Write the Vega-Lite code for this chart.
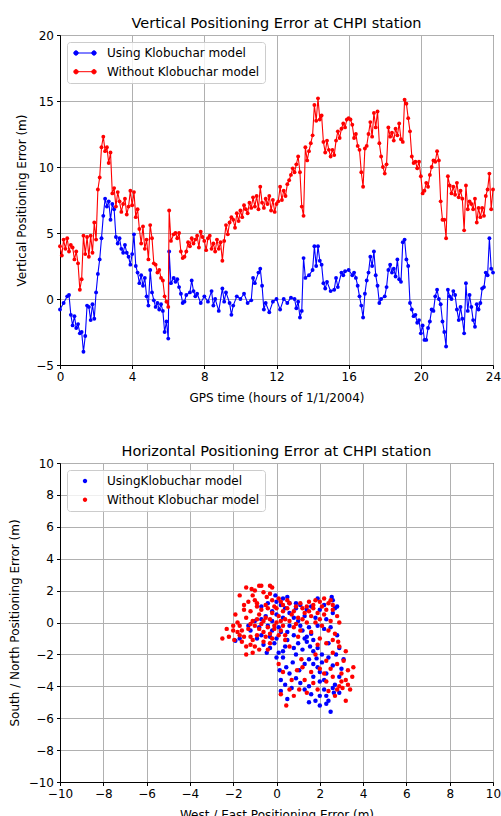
{
"$schema": "https://vega.github.io/schema/vega-lite/v6.json",
"padding": {"left": 7, "top": 15, "right": 8, "bottom": 0},
"spacing": 98,
"bounds": "flush",
"config": {
  "font": "DejaVu Sans",
  "view": {"stroke": "black", "strokeWidth": 1},
  "axis": {"domainColor": "black", "tickColor": "black", "tickSize": 3.5, "labelFontSize": 12, "labelColor": "black", "titleFontSize": 12, "titleFontWeight": "normal", "titleColor": "black", "gridColor": "#b0b0b0", "gridWidth": 1, "labelPadding": 3, "labelFont": "DejaVu Sans", "titleFont": "DejaVu Sans", "labelFlush": false, "labelOverlap": false, "titlePadding": 7},
  "axisX": {"titlePadding": 10},
  "title": {"fontSize": 14.5, "fontWeight": "normal", "font": "DejaVu Sans", "color": "black", "offset": -2},
  "legend": {"orient": "top-left", "offset": 7, "padding": 5, "strokeColor": "#cccccc", "fillColor": "rgba(255,255,255,0.8)", "cornerRadius": 3, "labelFontSize": 12, "labelFont": "DejaVu Sans", "labelColor": "black", "rowPadding": 6.7, "labelOffset": 16, "symbolOffset": 7, "symbolStrokeWidth": 1}
},
"datasets": {
  "tsU": [
{"h":0.0,"v":-0.8},{"h":0.2,"v":-0.3},{"h":0.4,"v":0.2},{"h":0.5,"v":0.3},{"h":0.6,"v":-1.2},{"h":0.7,"v":-2.0},{"h":0.8,"v":-1.3},{"h":0.9,"v":-2.2},{"h":1.0,"v":-1.9},{"h":1.1,"v":-2.6},{"h":1.2,"v":-2.5},{"h":1.3,"v":-4.0},{"h":1.4,"v":-2.8},{"h":1.5,"v":-0.5},{"h":1.6,"v":-0.6},{"h":1.7,"v":-1.6},{"h":1.8,"v":-0.4},{"h":1.9,"v":-1.5},{"h":2.0,"v":0.5},{"h":2.1,"v":1.9},{"h":2.2,"v":3.0},{"h":2.3,"v":4.6},{"h":2.4,"v":6.3},{"h":2.5,"v":7.6},{"h":2.6,"v":7.0},{"h":2.7,"v":7.4},{"h":2.8,"v":6.0},{"h":2.9,"v":7.2},{"h":3.0,"v":6.8},{"h":3.1,"v":4.7},{"h":3.2,"v":4.2},{"h":3.3,"v":4.6},{"h":3.4,"v":3.8},{"h":3.5,"v":3.5},{"h":3.6,"v":4.1},{"h":3.7,"v":3.5},{"h":3.8,"v":3.2},{"h":3.9,"v":2.6},{"h":4.0,"v":3.4},{"h":4.1,"v":4.9},{"h":4.2,"v":2.5},{"h":4.3,"v":2.0},{"h":4.4,"v":1.2},{"h":4.5,"v":1.8},{"h":4.6,"v":1.0},{"h":4.7,"v":1.6},{"h":4.8,"v":0.2},{"h":4.9,"v":-0.5},{"h":5.0,"v":2.2},{"h":5.1,"v":0.5},{"h":5.2,"v":-0.1},{"h":5.3,"v":-0.6},{"h":5.4,"v":-0.3},{"h":5.5,"v":-0.8},{"h":5.6,"v":-0.4},{"h":5.7,"v":-0.9},{"h":5.8,"v":-2.5},{"h":5.9,"v":-1.7},{"h":6.0,"v":-3.0},{"h":6.05,"v":3.6},{"h":6.15,"v":1.2},{"h":6.3,"v":1.6},{"h":6.4,"v":1.3},{"h":6.5,"v":1.5},{"h":6.6,"v":0.9},{"h":6.7,"v":0.4},{"h":6.8,"v":-0.3},{"h":6.9,"v":-0.2},{"h":7.0,"v":0.3},{"h":7.2,"v":0.5},{"h":7.3,"v":1.4},{"h":7.4,"v":0.6},{"h":7.5,"v":0.2},{"h":7.6,"v":0.4},{"h":7.8,"v":-0.3},{"h":8.0,"v":0.2},{"h":8.2,"v":-0.2},{"h":8.4,"v":0.6},{"h":8.5,"v":-0.5},{"h":8.6,"v":0.0},{"h":8.8,"v":-0.9},{"h":9.0,"v":0.8},{"h":9.1,"v":-0.2},{"h":9.2,"v":0.5},{"h":9.4,"v":-0.3},{"h":9.5,"v":-1.2},{"h":9.6,"v":-0.5},{"h":9.8,"v":0.2},{"h":10.0,"v":0.0},{"h":10.2,"v":0.4},{"h":10.4,"v":-0.3},{"h":10.6,"v":-0.1},{"h":10.7,"v":1.6},{"h":10.8,"v":1.2},{"h":11.0,"v":2.0},{"h":11.1,"v":2.3},{"h":11.2,"v":1.0},{"h":11.3,"v":-0.8},{"h":11.4,"v":-0.3},{"h":11.6,"v":-1.0},{"h":11.8,"v":-0.2},{"h":12.0,"v":0.0},{"h":12.2,"v":-0.8},{"h":12.4,"v":0.0},{"h":12.6,"v":-0.3},{"h":12.8,"v":0.1},{"h":13.0,"v":0.0},{"h":13.1,"v":-0.7},{"h":13.2,"v":-0.2},{"h":13.3,"v":-1.4},{"h":13.4,"v":-0.9},{"h":13.5,"v":3.1},{"h":13.6,"v":1.6},{"h":13.8,"v":1.8},{"h":14.0,"v":2.2},{"h":14.1,"v":4.0},{"h":14.2,"v":2.5},{"h":14.3,"v":4.0},{"h":14.4,"v":2.9},{"h":14.5,"v":2.6},{"h":14.6,"v":1.2},{"h":14.7,"v":0.8},{"h":14.8,"v":1.3},{"h":15.0,"v":0.6},{"h":15.2,"v":0.7},{"h":15.3,"v":1.6},{"h":15.4,"v":0.9},{"h":15.6,"v":2.0},{"h":15.7,"v":1.8},{"h":15.8,"v":2.1},{"h":16.0,"v":2.2},{"h":16.2,"v":1.8},{"h":16.3,"v":2.0},{"h":16.4,"v":1.6},{"h":16.5,"v":1.0},{"h":16.6,"v":0.2},{"h":16.7,"v":-0.5},{"h":16.8,"v":-1.4},{"h":16.9,"v":0.4},{"h":17.0,"v":1.4},{"h":17.1,"v":2.0},{"h":17.2,"v":3.2},{"h":17.3,"v":2.5},{"h":17.4,"v":3.6},{"h":17.5,"v":1.8},{"h":17.6,"v":1.0},{"h":17.7,"v":-0.3},{"h":17.8,"v":0.0},{"h":18.0,"v":0.2},{"h":18.1,"v":0.9},{"h":18.2,"v":2.2},{"h":18.3,"v":2.6},{"h":18.4,"v":2.0},{"h":18.5,"v":2.3},{"h":18.6,"v":1.7},{"h":18.7,"v":3.0},{"h":18.8,"v":1.5},{"h":18.9,"v":1.3},{"h":19.0,"v":4.3},{"h":19.1,"v":4.5},{"h":19.2,"v":3.0},{"h":19.3,"v":2.5},{"h":19.4,"v":-0.3},{"h":19.5,"v":-0.8},{"h":19.6,"v":-1.3},{"h":19.7,"v":-1.2},{"h":19.8,"v":-1.8},{"h":19.9,"v":-1.6},{"h":20.0,"v":-2.6},{"h":20.1,"v":-2.0},{"h":20.2,"v":-3.1},{"h":20.3,"v":-3.1},{"h":20.4,"v":-2.2},{"h":20.5,"v":-1.7},{"h":20.6,"v":-0.8},{"h":20.7,"v":-0.9},{"h":20.8,"v":0.2},{"h":20.9,"v":0.7},{"h":21.0,"v":0.0},{"h":21.1,"v":-0.4},{"h":21.2,"v":-1.7},{"h":21.3,"v":-2.5},{"h":21.4,"v":-3.6},{"h":21.5,"v":0.7},{"h":21.6,"v":0.2},{"h":21.7,"v":0.0},{"h":21.8,"v":0.6},{"h":21.9,"v":0.3},{"h":22.0,"v":-0.8},{"h":22.1,"v":-1.6},{"h":22.2,"v":-0.6},{"h":22.3,"v":-1.5},{"h":22.4,"v":-2.6},{"h":22.5,"v":1.2},{"h":22.6,"v":-0.9},{"h":22.7,"v":0.3},{"h":22.8,"v":-0.6},{"h":22.9,"v":-1.6},{"h":23.0,"v":-2.1},{"h":23.1,"v":-0.4},{"h":23.2,"v":-0.8},{"h":23.3,"v":-0.3},{"h":23.4,"v":0.8},{"h":23.5,"v":0.9},{"h":23.6,"v":2.0},{"h":23.7,"v":1.8},{"h":23.8,"v":4.6},{"h":23.9,"v":2.3},{"h":24.0,"v":2.0}
  ],
  "tsW": [
{"h":0.0,"v":4.0},{"h":0.1,"v":3.3},{"h":0.2,"v":4.5},{"h":0.3,"v":3.8},{"h":0.4,"v":4.6},{"h":0.5,"v":3.6},{"h":0.6,"v":4.1},{"h":0.7,"v":3.9},{"h":0.8,"v":3.0},{"h":0.9,"v":3.6},{"h":1.0,"v":2.7},{"h":1.1,"v":0.7},{"h":1.2,"v":1.5},{"h":1.3,"v":4.8},{"h":1.4,"v":3.4},{"h":1.5,"v":4.7},{"h":1.6,"v":3.2},{"h":1.7,"v":4.8},{"h":1.8,"v":3.5},{"h":1.9,"v":5.8},{"h":2.0,"v":4.5},{"h":2.1,"v":8.3},{"h":2.2,"v":9.2},{"h":2.3,"v":11.5},{"h":2.4,"v":12.3},{"h":2.5,"v":11.2},{"h":2.6,"v":11.5},{"h":2.7,"v":10.3},{"h":2.8,"v":11.1},{"h":2.9,"v":8.0},{"h":3.0,"v":8.4},{"h":3.1,"v":7.0},{"h":3.2,"v":8.1},{"h":3.3,"v":7.4},{"h":3.4,"v":6.6},{"h":3.5,"v":7.2},{"h":3.6,"v":7.6},{"h":3.7,"v":6.4},{"h":3.8,"v":7.0},{"h":3.9,"v":8.2},{"h":4.0,"v":7.1},{"h":4.1,"v":8.1},{"h":4.2,"v":6.2},{"h":4.3,"v":6.8},{"h":4.4,"v":5.3},{"h":4.5,"v":4.2},{"h":4.6,"v":5.5},{"h":4.7,"v":3.8},{"h":4.8,"v":4.5},{"h":4.9,"v":3.0},{"h":5.0,"v":5.6},{"h":5.1,"v":4.6},{"h":5.2,"v":2.7},{"h":5.3,"v":2.6},{"h":5.4,"v":2.0},{"h":5.5,"v":2.2},{"h":5.6,"v":1.6},{"h":5.7,"v":1.4},{"h":5.8,"v":0.2},{"h":5.9,"v":-0.2},{"h":6.0,"v":-0.6},{"h":6.05,"v":6.7},{"h":6.15,"v":4.4},{"h":6.3,"v":4.9},{"h":6.4,"v":5.0},{"h":6.5,"v":4.6},{"h":6.6,"v":5.0},{"h":6.7,"v":3.6},{"h":6.8,"v":3.1},{"h":6.9,"v":3.2},{"h":7.0,"v":3.6},{"h":7.1,"v":4.3},{"h":7.2,"v":4.0},{"h":7.3,"v":4.6},{"h":7.4,"v":4.2},{"h":7.5,"v":4.5},{"h":7.6,"v":4.8},{"h":7.7,"v":3.9},{"h":7.8,"v":5.1},{"h":7.9,"v":4.7},{"h":8.0,"v":4.4},{"h":8.1,"v":3.7},{"h":8.2,"v":4.6},{"h":8.3,"v":4.8},{"h":8.4,"v":3.8},{"h":8.5,"v":4.2},{"h":8.6,"v":3.6},{"h":8.7,"v":4.5},{"h":8.8,"v":3.8},{"h":8.9,"v":4.3},{"h":9.0,"v":2.9},{"h":9.1,"v":4.4},{"h":9.2,"v":5.6},{"h":9.3,"v":4.9},{"h":9.4,"v":5.8},{"h":9.5,"v":6.2},{"h":9.6,"v":6.0},{"h":9.7,"v":5.4},{"h":9.8,"v":6.5},{"h":9.9,"v":5.9},{"h":10.0,"v":6.7},{"h":10.1,"v":6.2},{"h":10.2,"v":7.1},{"h":10.3,"v":6.8},{"h":10.4,"v":6.5},{"h":10.5,"v":7.3},{"h":10.6,"v":6.9},{"h":10.7,"v":7.7},{"h":10.8,"v":7.0},{"h":10.9,"v":7.8},{"h":11.0,"v":6.8},{"h":11.1,"v":8.5},{"h":11.2,"v":7.3},{"h":11.3,"v":6.9},{"h":11.4,"v":7.6},{"h":11.5,"v":7.2},{"h":11.6,"v":7.8},{"h":11.7,"v":6.7},{"h":11.8,"v":7.5},{"h":11.9,"v":6.6},{"h":12.0,"v":7.2},{"h":12.1,"v":7.4},{"h":12.2,"v":8.5},{"h":12.3,"v":7.5},{"h":12.4,"v":8.2},{"h":12.5,"v":7.8},{"h":12.6,"v":8.7},{"h":12.7,"v":9.0},{"h":12.8,"v":9.4},{"h":12.9,"v":9.9},{"h":13.0,"v":9.6},{"h":13.1,"v":10.2},{"h":13.2,"v":10.8},{"h":13.3,"v":9.6},{"h":13.4,"v":7.0},{"h":13.5,"v":6.3},{"h":13.6,"v":11.5},{"h":13.7,"v":10.5},{"h":13.8,"v":11.2},{"h":13.9,"v":11.8},{"h":14.0,"v":12.4},{"h":14.1,"v":14.7},{"h":14.2,"v":13.5},{"h":14.3,"v":15.2},{"h":14.4,"v":13.6},{"h":14.5,"v":13.9},{"h":14.6,"v":11.9},{"h":14.7,"v":11.1},{"h":14.8,"v":12.0},{"h":14.9,"v":11.3},{"h":15.0,"v":10.8},{"h":15.1,"v":11.3},{"h":15.2,"v":10.9},{"h":15.3,"v":12.0},{"h":15.4,"v":12.7},{"h":15.5,"v":12.2},{"h":15.6,"v":12.9},{"h":15.7,"v":13.3},{"h":15.8,"v":13.0},{"h":15.9,"v":13.6},{"h":16.0,"v":13.7},{"h":16.1,"v":13.6},{"h":16.2,"v":13.2},{"h":16.3,"v":12.2},{"h":16.4,"v":12.5},{"h":16.5,"v":11.6},{"h":16.6,"v":11.3},{"h":16.7,"v":9.6},{"h":16.8,"v":8.5},{"h":16.9,"v":11.4},{"h":17.0,"v":11.6},{"h":17.1,"v":12.5},{"h":17.2,"v":13.4},{"h":17.3,"v":12.3},{"h":17.4,"v":14.1},{"h":17.5,"v":13.0},{"h":17.6,"v":14.2},{"h":17.7,"v":11.8},{"h":17.8,"v":10.8},{"h":17.9,"v":10.0},{"h":18.0,"v":9.5},{"h":18.1,"v":10.2},{"h":18.2,"v":13.0},{"h":18.3,"v":12.3},{"h":18.4,"v":12.6},{"h":18.5,"v":12.0},{"h":18.6,"v":12.9},{"h":18.7,"v":12.4},{"h":18.8,"v":13.3},{"h":18.9,"v":12.1},{"h":19.0,"v":11.9},{"h":19.1,"v":15.1},{"h":19.2,"v":14.8},{"h":19.3,"v":13.7},{"h":19.4,"v":12.7},{"h":19.5,"v":10.8},{"h":19.6,"v":10.3},{"h":19.7,"v":10.4},{"h":19.8,"v":9.9},{"h":19.9,"v":10.4},{"h":20.0,"v":9.3},{"h":20.1,"v":8.0},{"h":20.2,"v":8.2},{"h":20.3,"v":8.8},{"h":20.4,"v":8.5},{"h":20.5,"v":9.4},{"h":20.6,"v":10.0},{"h":20.7,"v":10.5},{"h":20.8,"v":10.4},{"h":20.9,"v":11.2},{"h":21.0,"v":10.5},{"h":21.1,"v":7.4},{"h":21.2,"v":6.0},{"h":21.3,"v":6.0},{"h":21.4,"v":4.6},{"h":21.5,"v":9.3},{"h":21.6,"v":8.6},{"h":21.7,"v":8.0},{"h":21.8,"v":8.5},{"h":21.9,"v":7.9},{"h":22.0,"v":8.8},{"h":22.1,"v":7.7},{"h":22.2,"v":8.2},{"h":22.3,"v":7.6},{"h":22.4,"v":5.2},{"h":22.5,"v":8.6},{"h":22.6,"v":6.8},{"h":22.7,"v":7.4},{"h":22.8,"v":7.2},{"h":22.9,"v":6.8},{"h":23.0,"v":7.6},{"h":23.1,"v":5.8},{"h":23.2,"v":6.9},{"h":23.3,"v":6.2},{"h":23.4,"v":6.9},{"h":23.5,"v":6.3},{"h":23.6,"v":7.8},{"h":23.7,"v":8.3},{"h":23.8,"v":9.5},{"h":23.9,"v":6.8},{"h":24.0,"v":8.3}
  ],
  "hzU": [
{"x":-0.05,"y":1.7},{"x":0.5,"y":1.6},{"x":2.55,"y":1.6},{"x":2.6,"y":1.4},{"x":1.9,"y":1.5},{"x":0.9,"y":1.2},{"x":-0.7,"y":1.0},{"x":-0.2,"y":0.7},{"x":-1.9,"y":-1.15},{"x":-1.7,"y":-1.0},{"x":-0.45,"y":-1.9},{"x":0.0,"y":-2.2},{"x":0.15,"y":-3.0},{"x":0.45,"y":-2.8},{"x":0.2,"y":-3.6},{"x":0.5,"y":-4.8},{"x":1.7,"y":-3.4},{"x":1.5,"y":-4.0},{"x":2.0,"y":-3.7},{"x":2.2,"y":-4.2},{"x":2.3,"y":-4.6},{"x":2.0,"y":-4.6},{"x":2.4,"y":-4.9},{"x":3.0,"y":-2.9},{"x":2.7,"y":-3.9},{"x":0.75,"y":-2.5},{"x":1.05,"y":-3.0},{"x":1.4,"y":-0.9},{"x":1.55,"y":-1.5},{"x":1.7,"y":-1.8},{"x":1.85,"y":-2.25},{"x":1.2,"y":-0.5},{"x":1.5,"y":-0.3},{"x":0.3,"y":0.3},{"x":0.6,"y":0.6},{"x":0.9,"y":0.9},{"x":0.1,"y":-0.3},{"x":-0.4,"y":-0.2},{"x":-0.7,"y":0.2},{"x":-1.0,"y":0.1},{"x":-0.3,"y":-0.9},{"x":-0.6,"y":-1.4},{"x":0.0,"y":-1.0},{"x":0.4,"y":-1.5},{"x":0.8,"y":-0.8},{"x":1.2,"y":-1.7},{"x":1.5,"y":-2.3},{"x":1.9,"y":-2.8},{"x":2.3,"y":-3.2},{"x":2.1,"y":-2.0},{"x":2.4,"y":-1.3},{"x":2.8,"y":-0.8},{"x":2.3,"y":0.2},{"x":2.6,"y":0.6},{"x":2.0,"y":0.8},{"x":1.3,"y":0.4},{"x":0.6,"y":-0.2},{"x":2.5,"y":-5.6},{"x":2.65,"y":-4.4},{"x":2.9,"y":-3.4},{"x":0.3,"y":-2.2},{"x":0.9,"y":-3.5},{"x":1.3,"y":-2.6},{"x":-1.2,"y":-0.5},{"x":-0.9,"y":-1.0},{"x":0.2,"y":1.1},{"x":1.0,"y":0.1},{"x":1.7,"y":-1.1},{"x":2.2,"y":-0.4},{"x":0.0,"y":0.5},{"x":-0.2,"y":0.1},{"x":0.5,"y":-0.6},{"x":1.8,"y":0.3},{"x":3.1,"y":-2.3},{"x":2.75,"y":-2.0},{"x":2.0,"y":-5.2},{"x":1.6,"y":-4.5},{"x":0.7,"y":-4.1},{"x":-0.3,"y":-1.6},{"x":1.0,"y":-1.3},
{"x":0.0,"y":1.3},{"x":0.3,"y":1.5},{"x":0.6,"y":1.2},{"x":1.1,"y":1.1},{"x":1.6,"y":1.0},{"x":2.2,"y":1.1},{"x":2.8,"y":1.0},{"x":0.8,"y":0.3},{"x":1.1,"y":-0.2},{"x":1.4,"y":-1.2},{"x":1.6,"y":-0.7},{"x":1.9,"y":-1.6},{"x":2.1,"y":-2.5},{"x":2.4,"y":-2.2},{"x":2.6,"y":-2.7},{"x":2.2,"y":-3.6},{"x":2.6,"y":-4.1},{"x":2.3,"y":-5.1},{"x":1.8,"y":-4.9},{"x":1.3,"y":-4.2},{"x":1.1,"y":-3.8},{"x":0.6,"y":-3.2},{"x":0.4,"y":-3.9},{"x":0.2,"y":-4.3},{"x":0.9,"y":-2.0},{"x":0.5,"y":-1.1},{"x":0.2,"y":-0.6},{"x":-0.2,"y":-0.5},{"x":-0.5,"y":0.4},{"x":-0.8,"y":-0.3},{"x":-1.3,"y":-0.2},{"x":-0.1,"y":-1.3},{"x":0.3,"y":-1.8},{"x":1.3,"y":-1.0},{"x":1.7,"y":-2.6},{"x":2.0,"y":-3.1},{"x":2.9,"y":-1.6},{"x":2.5,"y":-0.3},{"x":2.7,"y":0.9},{"x":1.4,"y":0.8},{"x":0.4,"y":0.9},{"x":-0.4,"y":1.2},{"x":1.9,"y":-0.2},{"x":2.9,"y":-4.4},{"x":1.5,"y":-5.0},{"x":0.8,"y":-1.6},{"x":-0.7,"y":-0.8},{"x":0.1,"y":-1.9}
  ],
  "hzW": [
{"x":-1.4,"y":2.2},{"x":-1.15,"y":2.1},{"x":-0.8,"y":2.3},{"x":-0.7,"y":2.3},{"x":-0.3,"y":2.3},{"x":-0.2,"y":2.2},{"x":-1.7,"y":1.7},{"x":-1.1,"y":1.7},{"x":-0.6,"y":1.9},{"x":-0.45,"y":1.6},{"x":-1.3,"y":1.3},{"x":-0.9,"y":1.2},{"x":-0.2,"y":1.4},{"x":0.1,"y":1.5},{"x":0.3,"y":1.1},{"x":0.6,"y":1.2},{"x":0.9,"y":1.0},{"x":1.2,"y":0.9},{"x":1.5,"y":1.3},{"x":1.8,"y":1.4},{"x":2.1,"y":1.0},{"x":2.4,"y":1.2},{"x":2.6,"y":0.8},{"x":2.2,"y":0.5},{"x":1.9,"y":0.6},{"x":1.6,"y":0.4},{"x":1.3,"y":0.6},{"x":1.0,"y":0.3},{"x":0.7,"y":0.5},{"x":0.4,"y":0.2},{"x":0.1,"y":0.4},{"x":-0.2,"y":0.6},{"x":-0.5,"y":0.3},{"x":-0.8,"y":0.5},{"x":-1.1,"y":0.1},{"x":-1.4,"y":0.3},{"x":-1.7,"y":-0.2},{"x":-2.0,"y":-0.2},{"x":-2.5,"y":-1.0},{"x":-2.2,"y":-0.9},{"x":-1.95,"y":-1.1},{"x":-1.8,"y":0.0},{"x":-1.6,"y":-0.5},{"x":-1.3,"y":-0.4},{"x":-1.0,"y":-0.2},{"x":-0.7,"y":-0.1},{"x":-0.4,"y":-0.3},{"x":-0.1,"y":-0.2},{"x":0.2,"y":-0.5},{"x":-0.3,"y":-0.7},{"x":-0.6,"y":-0.6},{"x":-0.9,"y":-0.8},{"x":-1.2,"y":-0.9},{"x":-1.4,"y":-1.5},{"x":-1.0,"y":-1.5},{"x":-1.4,"y":-2.0},{"x":-1.1,"y":-1.9},{"x":-0.6,"y":-1.2},{"x":-0.2,"y":-1.0},{"x":0.4,"y":-0.8},{"x":0.8,"y":-0.3},{"x":1.1,"y":-0.5},{"x":2.5,"y":0.1},{"x":2.9,"y":0.0},{"x":2.7,"y":-0.7},{"x":2.85,"y":-1.2},{"x":3.2,"y":-1.8},{"x":2.6,"y":-1.9},{"x":2.3,"y":-2.4},{"x":3.55,"y":-2.8},{"x":3.2,"y":-3.6},{"x":3.05,"y":-4.1},{"x":2.9,"y":-4.0},{"x":3.2,"y":-4.9},{"x":2.6,"y":-3.4},{"x":2.0,"y":-2.9},{"x":1.15,"y":-2.3},{"x":1.2,"y":-2.8},{"x":0.2,"y":-4.5},{"x":0.45,"y":-5.2},{"x":0.7,"y":-3.6},{"x":1.05,"y":-4.2},{"x":1.4,"y":-4.4},{"x":0.95,"y":-3.0},{"x":1.7,"y":-3.8},{"x":0.6,"y":-4.2},{"x":2.2,"y":-3.2},{"x":3.0,"y":-3.2},{"x":2.4,"y":-4.3},{"x":1.8,"y":-2.0},{"x":0.6,"y":-1.5},{"x":-0.4,"y":-1.7},{"x":-1.6,"y":-1.2},{"x":0.0,"y":0.9},{"x":0.3,"y":0.7},{"x":1.4,"y":0.0},{"x":2.0,"y":0.2},{"x":2.3,"y":-1.3},{"x":1.9,"y":-1.4},{"x":3.3,"y":-3.0},{"x":3.4,"y":-4.2},{"x":2.7,"y":-4.6},{"x":-0.5,"y":1.1},{"x":-0.9,"y":1.0},{"x":-1.2,"y":0.7},{"x":0.5,"y":1.4},{"x":-2.0,"y":-0.5},{"x":-0.1,"y":-0.4},{"x":0.2,"y":0.1},{"x":1.7,"y":0.9},{"x":2.2,"y":1.5},{"x":2.5,"y":1.4},{"x":-0.3,"y":-1.3},{"x":1.0,"y":-0.9},{"x":-1.5,"y":0.8},
{"x":-1.9,"y":0.5},{"x":-1.5,"y":1.1},{"x":-1.0,"y":1.4},{"x":-0.7,"y":0.8},{"x":-0.4,"y":0.9},{"x":-0.1,"y":1.0},{"x":0.2,"y":1.3},{"x":0.5,"y":0.9},{"x":0.8,"y":0.7},{"x":1.1,"y":1.2},{"x":1.4,"y":1.0},{"x":1.7,"y":1.1},{"x":2.0,"y":1.3},{"x":2.3,"y":0.8},{"x":2.6,"y":1.1},{"x":2.8,"y":0.4},{"x":-1.8,"y":-0.6},{"x":-1.5,"y":-0.9},{"x":-1.2,"y":-0.1},{"x":-0.9,"y":0.2},{"x":-0.6,"y":0.1},{"x":-0.3,"y":0.2},{"x":0.0,"y":0.0},{"x":0.3,"y":-0.2},{"x":0.6,"y":0.1},{"x":0.9,"y":-0.1},{"x":1.2,"y":0.2},{"x":1.5,"y":0.7},{"x":1.8,"y":0.0},{"x":2.1,"y":-0.2},{"x":2.4,"y":-0.5},{"x":-0.8,"y":-0.4},{"x":-0.5,"y":-0.9},{"x":-1.1,"y":-1.1},{"x":-1.7,"y":-0.8},{"x":-0.8,"y":-1.7},{"x":-1.2,"y":-1.4},{"x":0.1,"y":-0.8},{"x":2.6,"y":-1.1},{"x":2.9,"y":-1.5},{"x":3.1,"y":-2.4},{"x":2.8,"y":-2.6},{"x":3.3,"y":-3.9},{"x":2.8,"y":-4.2},{"x":3.0,"y":-3.7},{"x":2.5,"y":-2.9},{"x":1.6,"y":-3.1},{"x":1.3,"y":-3.6},{"x":0.8,"y":-4.6},{"x":0.3,"y":-3.1},{"x":1.9,"y":-4.2},{"x":2.3,"y":-3.7},{"x":0.1,"y":-2.6},{"x":3.5,"y":-3.4},{"x":-0.3,"y":1.8},{"x":-1.0,"y":2.0},{"x":0.4,"y":-1.1},{"x":1.6,"y":-0.6},{"x":2.0,"y":-1.0},{"x":-2.3,"y":-0.4}
  ]
},
"resolve": {"scale": {"color": "independent"}, "legend": {"color": "independent"}},
"vconcat": [
  {
    "width": 433, "height": 330,
    "title": "Vertical Positioning Error at CHPI station",
    "encoding": {
      "x": {"field": "h", "type": "quantitative", "scale": {"domain": [0, 24], "nice": false, "zero": false}, "axis": {"values": [0, 4, 8, 12, 16, 20, 24], "title": "GPS time (hours of 1/1/2004)"}},
      "y": {"field": "v", "type": "quantitative", "scale": {"domain": [-5, 20], "nice": false, "zero": false}, "axis": {"values": [-5, 0, 5, 10, 15, 20], "title": "Vertical Positioning Error (m)"}}
    },
    "layer": [
      {"data": {"name": "tsU"}, "mark": {"type": "line", "strokeWidth": 1.1}, "encoding": {"color": {"datum": "Using Klobuchar model", "type": "nominal", "scale": {"domain": ["Using Klobuchar model", "Without Klobuchar model"], "range": ["#0000ff", "#ff0000"]}, "legend": {"title": null, "symbolType": "M-1.8,0H1.8M-2.24,0A0.44,0.44 0 1,0 -1.36,0A0.44,0.44 0 1,0 -2.24,0ZM1.36,0A0.44,0.44 0 1,0 2.24,0A0.44,0.44 0 1,0 1.36,0Z", "symbolSize": 100, "symbolStrokeWidth": 1}}}},
      {"data": {"name": "tsU"}, "mark": {"type": "point", "filled": true, "size": 15, "opacity": 1}, "encoding": {"color": {"datum": "Using Klobuchar model", "type": "nominal"}}},
      {"data": {"name": "tsW"}, "mark": {"type": "line", "strokeWidth": 1.1}, "encoding": {"color": {"datum": "Without Klobuchar model", "type": "nominal"}}},
      {"data": {"name": "tsW"}, "mark": {"type": "point", "filled": true, "size": 15, "opacity": 1}, "encoding": {"color": {"datum": "Without Klobuchar model", "type": "nominal"}}}
    ]
  },
  {
    "width": 433, "height": 319,
    "title": "Horizontal Positioning Error at CHPI station",
    "encoding": {
      "x": {"field": "x", "type": "quantitative", "scale": {"domain": [-10, 10], "nice": false}, "axis": {"values": [-10, -8, -6, -4, -2, 0, 2, 4, 6, 8, 10], "title": "West / East Positioning Error (m)"}},
      "y": {"field": "y", "type": "quantitative", "scale": {"domain": [-10, 10], "nice": false}, "axis": {"values": [-10, -8, -6, -4, -2, 0, 2, 4, 6, 8, 10], "title": "South / North Positioning Error (m)"}}
    },
    "layer": [
      {"data": {"name": "hzU"}, "mark": {"type": "point", "filled": true, "size": 20, "opacity": 1}, "encoding": {"color": {"datum": "UsingKlobuchar model", "type": "nominal", "scale": {"domain": ["UsingKlobuchar model", "Without Klobuchar model"], "range": ["#0000ff", "#ff0000"]}, "legend": {"title": null, "symbolType": "M-0.44,0A0.44,0.44 0 1,0 0.44,0A0.44,0.44 0 1,0 -0.44,0Z", "symbolSize": 100}}}},
      {"data": {"name": "hzW"}, "mark": {"type": "point", "filled": true, "size": 20, "opacity": 1}, "encoding": {"color": {"datum": "Without Klobuchar model", "type": "nominal"}}}
    ]
  }
]
}
